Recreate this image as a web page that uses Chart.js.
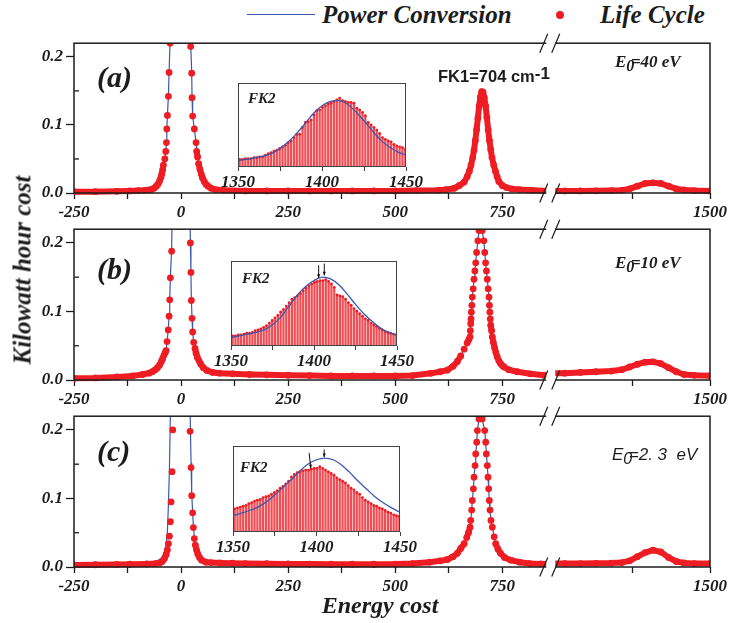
<!DOCTYPE html>
<html>
<head>
<meta charset="utf-8">
<script src="https://cdn.jsdelivr.net/npm/chart.js@4.4.1/dist/chart.umd.min.js"></script>
<style>
  body { margin: 0; background: #fff; }
  #wrap { position: relative; width: 730px; height: 623px; overflow: hidden; }
  canvas { position: absolute; }
  .t { position: absolute; font-family: "Liberation Serif", serif; font-style: italic; font-weight: bold;
       color: #1c1c1c; white-space: nowrap; line-height: 1; transform: translateY(-50%); }
  .sub { font-size: 0.95em; position: relative; top: 0.22em; margin-right: -0.22em; }
  .fk1 { position: absolute; font-family: "Liberation Sans", sans-serif; font-weight: bold; font-size: 16.5px;
         color: #1c1c1c; white-space: nowrap; line-height: 1; transform: translateY(-50%); }
  .fk1 sup { font-size: 17px; position: relative; top: -0.15em; vertical-align: top; line-height: 1; }
</style>
</head>
<body>
<div id="wrap">
  <canvas id="pa" width="730" height="193" style="left:0;top:30px"></canvas>
  <canvas id="pb" width="730" height="194" style="left:0;top:216px"></canvas>
  <canvas id="pc" width="730" height="194" style="left:0;top:403px"></canvas>
  <canvas id="ia" width="220" height="114" style="left:213px;top:77px"></canvas>
  <canvas id="ib" width="218" height="115" style="left:206px;top:255px"></canvas>
  <canvas id="ic" width="219" height="116" style="left:208px;top:440px"></canvas>

  <div style="position:absolute;left:247px;top:14px;width:68px;border-top:1.3px solid #3a58b0"></div>
  <div class="t" style="left:322px;top:14px;font-size:25px">Power Conversion</div>
  <div style="position:absolute;left:556px;top:11px;width:8px;height:8px;border-radius:50%;background:#ee1d23"></div>
  <div class="t" style="left:600px;top:14px;font-size:25px">Life Cycle</div>

  <div class="t" style="left:22px;top:270px;font-size:25px;transform:translate(-50%,-50%) rotate(-90deg)">Kilowatt hour cost</div>
  <div class="t" style="left:380px;top:605px;font-size:24px;transform:translate(-50%,-50%)">Energy cost</div>

  <div class="t" style="left:97px;top:77px;font-size:30px">(a)</div>
  <div class="t" style="left:97px;top:269px;font-size:30px">(b)</div>
  <div class="t" style="left:97px;top:451px;font-size:30px">(c)</div>

  <div class="t" style="left:615px;top:62px;font-size:17px">E<span class="sub">0</span>=40 eV</div>
  <div class="t" style="left:615px;top:263px;font-size:17px">E<span class="sub">0</span>=10 eV</div>
  <div class="t" style="left:612px;top:454px;font-size:17px;font-family:'Liberation Sans',sans-serif;font-weight:normal">E<span class="sub">0</span>=2. 3&nbsp; eV</div>

  <div class="fk1" style="left:438px;top:76px">FK1=704 cm<sup>-1</sup></div>

  <div class="t" style="left:248px;top:98px;font-size:15px">FK2</div>
  <div class="t" style="left:242px;top:278px;font-size:15px">FK2</div>
  <div class="t" style="left:240px;top:467px;font-size:15px">FK2</div>
</div>

<script>
// ---- main spectra, left part of the broken axis (-250 .. 862) ----
var energyA = [-250, -200, -150, -120, -100, -85, -75, -70, -63, -58, -54, -50, -47, -45, -43, -41.3, -38, -35.7, -34.2, -33.3,
  -31.9, -29.6, -28, -25.6, -15, 0, 15, 22.5, 24.8, 25.6, 27, 31, 35, 36.5, 38.5, 41, 44, 47, 50, 54,
  58, 63, 70, 80, 100, 150, 200, 250, 300, 350, 400, 450, 500, 550, 600, 620, 638, 650, 661, 668,
  673, 677, 681, 684, 687, 690, 693, 696, 699, 702, 705, 708, 711, 714, 717, 720, 723, 726, 730, 734,
  738, 742, 750, 760, 772, 790, 820, 862];
var lifeA = [0.002, 0.002, 0.0025, 0.003, 0.0035, 0.004, 0.0045, 0.005, 0.007, 0.010, 0.013, 0.018, 0.023, 0.028, 0.034, 0.041, 0.050, 0.061, 0.074, 0.094,
  0.114, 0.142, 0.177, 0.220, 0.60, 1.00, 0.60, 0.215, 0.176, 0.140, 0.113, 0.094, 0.074, 0.061, 0.053, 0.043, 0.035, 0.028, 0.022, 0.017,
  0.013, 0.010, 0.007, 0.005, 0.004, 0.003, 0.003, 0.003, 0.003, 0.003, 0.003, 0.003, 0.003, 0.0035, 0.004, 0.005, 0.007, 0.011, 0.016, 0.024,
  0.032, 0.041, 0.052, 0.063, 0.077, 0.093, 0.110, 0.128, 0.141, 0.149, 0.148, 0.140, 0.128, 0.111, 0.093, 0.077, 0.064, 0.052, 0.041, 0.032,
  0.024, 0.017, 0.011, 0.008, 0.006, 0.005, 0.004, 0.003];
var powerA = [0.002, 0.002, 0.0025, 0.003, 0.0035, 0.004, 0.0045, 0.005, 0.007, 0.010, 0.013, 0.018, 0.023, 0.028, 0.034, 0.041, 0.050, 0.061, 0.074, 0.094,
  0.114, 0.142, 0.177, 0.225, 0.62, 1.00, 0.62, 0.218, 0.178, 0.140, 0.113, 0.094, 0.074, 0.061, 0.053, 0.043, 0.035, 0.028, 0.022, 0.017,
  0.013, 0.010, 0.007, 0.005, 0.004, 0.003, 0.003, 0.003, 0.003, 0.003, 0.003, 0.003, 0.003, 0.0035, 0.004, 0.005, 0.007, 0.011, 0.016, 0.024,
  0.032, 0.041, 0.052, 0.063, 0.077, 0.093, 0.110, 0.128, 0.141, 0.149, 0.148, 0.140, 0.128, 0.111, 0.093, 0.077, 0.064, 0.052, 0.041, 0.032,
  0.024, 0.017, 0.011, 0.008, 0.006, 0.005, 0.004, 0.003];

var energyB = [-250, -200, -150, -113, -90, -75, -67, -60, -55, -50, -46, -43, -40, -37, -35, -32.7, -30, -28, -26.5, -25,
  -22, -15, 0, 15, 21.7, 23, 24, 25.6, 27, 29.5, 32.6, 35, 38, 42, 46, 52, 60, 74, 90, 120,
  160, 200, 250, 300, 350, 400, 450, 500, 540, 583, 605, 622, 635, 645, 653, 661, 668, 672, 674.7, 675.5,
  676.3, 677, 677.8, 679, 680, 682, 684, 686, 688, 690, 693, 695.7, 700, 703, 707, 709, 711, 713, 715, 717,
  719, 720, 721, 722, 723, 725, 726.7, 729, 732, 735, 738, 742, 746, 750, 754, 765, 785, 815, 847, 862];
var lifeB = [0.0025, 0.003, 0.0045, 0.006, 0.008, 0.010, 0.012, 0.015, 0.018, 0.022, 0.027, 0.031, 0.036, 0.040, 0.043, 0.056, 0.073, 0.093, 0.117, 0.149,
  0.188, 0.50, 1.00, 0.50, 0.200, 0.157, 0.116, 0.090, 0.070, 0.055, 0.046, 0.039, 0.033, 0.028, 0.023, 0.018, 0.014, 0.011, 0.010, 0.009,
  0.008, 0.0075, 0.007, 0.0065, 0.006, 0.006, 0.006, 0.006, 0.0065, 0.0097, 0.012, 0.0145, 0.020, 0.027, 0.035, 0.045, 0.054, 0.059, 0.063, 0.072,
  0.082, 0.089, 0.099, 0.109, 0.121, 0.133, 0.147, 0.159, 0.171, 0.186, 0.203, 0.218, 0.245, 0.218, 0.203, 0.186, 0.171, 0.159, 0.147, 0.133,
  0.121, 0.109, 0.099, 0.089, 0.080, 0.072, 0.063, 0.055, 0.047, 0.040, 0.034, 0.028, 0.024, 0.021, 0.019, 0.015, 0.012, 0.009, 0.007, 0.007];
var powerB = [0.0025, 0.003, 0.0045, 0.006, 0.008, 0.010, 0.012, 0.015, 0.018, 0.022, 0.027, 0.031, 0.036, 0.040, 0.043, 0.056, 0.073, 0.093, 0.117, 0.150,
  0.190, 0.52, 1.00, 0.52, 0.202, 0.158, 0.117, 0.090, 0.070, 0.055, 0.046, 0.039, 0.033, 0.028, 0.023, 0.018, 0.014, 0.011, 0.010, 0.009,
  0.008, 0.0075, 0.007, 0.0065, 0.006, 0.006, 0.006, 0.006, 0.0065, 0.0097, 0.012, 0.0145, 0.020, 0.027, 0.035, 0.045, 0.054, 0.059, 0.063, 0.072,
  0.082, 0.089, 0.099, 0.109, 0.121, 0.133, 0.147, 0.159, 0.171, 0.186, 0.203, 0.218, 0.248, 0.218, 0.203, 0.186, 0.171, 0.159, 0.147, 0.133,
  0.121, 0.109, 0.099, 0.089, 0.080, 0.072, 0.063, 0.055, 0.047, 0.040, 0.034, 0.028, 0.024, 0.021, 0.019, 0.015, 0.012, 0.009, 0.007, 0.007];

var energyC = [-250, -200, -150, -120, -80, -60, -50, -44, -39, -35, -32, -29.6, -27.3, -25, -23.3, -21, -19.6, -12, 0, 12,
  21, 23.3, 24.8, 27, 28.7, 31, 33.3, 36, 39, 43, 48, 58, 70, 90, 120, 150, 200, 250, 300, 350,
  400, 450, 500, 540, 580, 605, 622, 635, 645, 653, 661, 667, 671, 674.7, 676.3, 678.6, 680, 682.5, 684, 686.4,
  688, 690.3, 691.8, 695.7, 699.5, 703, 709, 711.3, 712.8, 715, 716.7, 718.2, 719.7, 721.3, 723.6, 726.7, 731, 734.6, 740, 746,
  755, 770, 790, 815, 840, 862];
var lifeC = [0.003, 0.0033, 0.0038, 0.004, 0.0045, 0.005, 0.006, 0.008, 0.012, 0.018, 0.025, 0.034, 0.045, 0.066, 0.095, 0.139, 0.200, 0.60, 1.00, 0.60,
  0.198, 0.145, 0.104, 0.079, 0.0575, 0.0415, 0.032, 0.025, 0.019, 0.014, 0.010, 0.007, 0.0065, 0.006, 0.0055, 0.005, 0.0048, 0.0045, 0.0042, 0.004,
  0.004, 0.004, 0.0042, 0.005, 0.007, 0.009, 0.011, 0.015, 0.020, 0.027, 0.034, 0.043, 0.050, 0.058, 0.068, 0.083, 0.097, 0.114, 0.131, 0.148,
  0.165, 0.182, 0.199, 0.216, 0.235, 0.216, 0.199, 0.182, 0.165, 0.148, 0.131, 0.114, 0.097, 0.083, 0.068, 0.058, 0.044, 0.034, 0.026, 0.020,
  0.014, 0.010, 0.007, 0.005, 0.0045, 0.0045];
var powerC = [0.003, 0.0033, 0.0038, 0.004, 0.006, 0.008, 0.011, 0.014, 0.022, 0.032, 0.050, 0.090, 0.140, 0.220, 0.300, 0.420, 0.500, 0.80, 1.00, 0.80,
  0.230, 0.152, 0.108, 0.080, 0.060, 0.043, 0.033, 0.026, 0.020, 0.015, 0.011, 0.0075, 0.0065, 0.006, 0.0055, 0.005, 0.0048, 0.0045, 0.0042, 0.004,
  0.004, 0.004, 0.0042, 0.005, 0.007, 0.009, 0.011, 0.015, 0.020, 0.027, 0.034, 0.043, 0.050, 0.058, 0.068, 0.083, 0.097, 0.114, 0.131, 0.148,
  0.165, 0.182, 0.199, 0.216, 0.238, 0.216, 0.199, 0.182, 0.165, 0.148, 0.131, 0.114, 0.097, 0.083, 0.068, 0.058, 0.044, 0.034, 0.026, 0.020,
  0.014, 0.010, 0.007, 0.005, 0.0045, 0.0045];

// ---- right part of the broken axis (1192 .. 1500) ----
var energyRight = [1192, 1220, 1250, 1280, 1310, 1330, 1345, 1360, 1375, 1390, 1405, 1420, 1435, 1450, 1470, 1500];
var lifeRA = [0.003, 0.003, 0.003, 0.0032, 0.0035, 0.004, 0.006, 0.010, 0.014, 0.015, 0.014, 0.010, 0.006, 0.0045, 0.0035, 0.003];
var powerRA = [0.003, 0.003, 0.003, 0.0032, 0.0035, 0.004, 0.006, 0.010, 0.014, 0.015, 0.014, 0.010, 0.006, 0.0045, 0.0035, 0.003];
var lifeRB = [0.010, 0.010, 0.011, 0.012, 0.013, 0.015, 0.019, 0.023, 0.026, 0.0265, 0.024, 0.018, 0.012, 0.008, 0.0068, 0.0063];
var powerRB = [0.010, 0.010, 0.011, 0.012, 0.013, 0.015, 0.019, 0.023, 0.026, 0.027, 0.025, 0.019, 0.012, 0.008, 0.0068, 0.0063];
var lifeRC = [0.005, 0.005, 0.005, 0.0053, 0.0057, 0.0065, 0.009, 0.015, 0.021, 0.0245, 0.022, 0.014, 0.008, 0.0058, 0.005, 0.005];
var powerRC = [0.005, 0.005, 0.005, 0.0053, 0.0057, 0.0065, 0.009, 0.015, 0.021, 0.0245, 0.022, 0.014, 0.008, 0.0058, 0.005, 0.005];

var ticksLeft = [-250, 0, 250, 500, 750];
var ticksRight = [1350, 1500];
var ticksY = [0, 0.1, 0.2];
var minorY = [0.05, 0.15];

// ---- FK2 insets ----
var insetX = [1351.0, 1352.7, 1354.4, 1356.1, 1357.8, 1359.5, 1361.2, 1362.9, 1364.6, 1366.3, 1368.0, 1369.7, 1371.4, 1373.1, 1374.8,
  1376.5, 1378.2, 1379.9, 1381.6, 1383.3, 1385.0, 1386.7, 1388.4, 1390.1, 1391.8, 1393.5, 1395.2, 1396.9, 1398.6, 1400.3,
  1402.0, 1403.7, 1405.4, 1407.1, 1408.8, 1410.5, 1412.2, 1413.9, 1415.6, 1417.3, 1419.0, 1420.7, 1422.4, 1424.1, 1425.8,
  1427.5, 1429.2, 1430.9, 1432.6, 1434.3, 1436.0, 1437.7, 1439.4, 1441.1, 1442.8, 1444.5, 1446.2, 1447.9, 1449.6];
var barsA = [0.09, 0.09, 0.10, 0.10, 0.10, 0.11, 0.11, 0.12, 0.12, 0.14, 0.16, 0.17, 0.19, 0.20, 0.22,
  0.24, 0.26, 0.29, 0.31, 0.35, 0.39, 0.39, 0.47, 0.53, 0.54, 0.56, 0.62, 0.67, 0.68, 0.71,
  0.73, 0.75, 0.76, 0.78, 0.80, 0.82, 0.79, 0.78, 0.77, 0.77, 0.76, 0.70, 0.68, 0.65, 0.61,
  0.53, 0.50, 0.47, 0.44, 0.40, 0.35, 0.33, 0.31, 0.30, 0.27, 0.25, 0.24, 0.23, 0.21];
var barsB = [0.12, 0.12, 0.13, 0.13, 0.14, 0.15, 0.15, 0.16, 0.18, 0.19, 0.20, 0.22, 0.24, 0.27, 0.30,
  0.33, 0.36, 0.40, 0.43, 0.47, 0.51, 0.55, 0.57, 0.59, 0.62, 0.65, 0.68, 0.71, 0.73, 0.75,
  0.76, 0.77, 0.77, 0.78, 0.76, 0.73, 0.69, 0.60, 0.59, 0.58, 0.55, 0.51, 0.48, 0.44, 0.41,
  0.38, 0.35, 0.32, 0.30, 0.27, 0.25, 0.23, 0.21, 0.19, 0.17, 0.16, 0.15, 0.14, 0.13];
var barsC = [0.27, 0.28, 0.29, 0.30, 0.31, 0.33, 0.34, 0.36, 0.37, 0.38, 0.40, 0.41, 0.42, 0.44, 0.46,
  0.48, 0.51, 0.53, 0.56, 0.59, 0.64, 0.67, 0.69, 0.70, 0.71, 0.72, 0.72, 0.73, 0.74, 0.74,
  0.76, 0.74, 0.72, 0.70, 0.68, 0.66, 0.63, 0.61, 0.59, 0.57, 0.54, 0.51, 0.49, 0.46, 0.44,
  0.40, 0.37, 0.35, 0.33, 0.31, 0.30, 0.28, 0.27, 0.25, 0.23, 0.22, 0.20, 0.19, 0.18];
var fitX = [1350, 1355, 1360, 1365, 1370, 1375, 1380, 1385, 1390, 1395, 1400, 1405, 1410, 1415, 1420, 1425, 1430, 1435, 1440, 1445, 1450];
var fitA = [0.08, 0.09, 0.11, 0.13, 0.16, 0.22, 0.30, 0.40, 0.52, 0.64, 0.73, 0.78, 0.79, 0.75, 0.66, 0.55, 0.43, 0.32, 0.24, 0.18, 0.14];
var fitB = [0.10, 0.12, 0.14, 0.16, 0.19, 0.25, 0.34, 0.47, 0.60, 0.70, 0.77, 0.81, 0.79, 0.72, 0.61, 0.49, 0.38, 0.29, 0.21, 0.16, 0.125];
var fitC = [0.19, 0.22, 0.25, 0.29, 0.35, 0.43, 0.52, 0.61, 0.71, 0.79, 0.84, 0.86, 0.84, 0.78, 0.69, 0.59, 0.50, 0.41, 0.34, 0.28, 0.23];
// arrows: [x from, y from, x to, y to]
var arrowsB = [[1402.8, 0.95, 1402.8, 0.80], [1406.2, 0.97, 1406.2, 0.83]];
var arrowsC = [[1395.6, 0.92, 1396.6, 0.74], [1404.6, 0.96, 1404.6, 0.87]];

var red = '#ee1d23';
var blue = '#3a58b0';
var ink = '#1c1c1c';
var tickFont = { family: 'Liberation Serif', size: 17, style: 'italic', weight: 'bold' };

function pts(xs, ys) {
  return xs.map(function (x, i) { return { x: x, y: ys[i] }; });
}

// thick red trace; steep steps are left as separate dots
function lifeSegment(solidFrom) {
  return function (c) {
    if (c.p0.parsed.x >= solidFrom) return red;
    return Math.abs(c.p1.y - c.p0.y) > 5.5 ? 'rgba(0,0,0,0)' : red;
  };
}

var frame = {
  id: 'frame',
  afterDatasetsDraw: function (chart) {
    var ctx = chart.ctx, a = chart.chartArea, y = chart.scales.y;
    ctx.save();
    ctx.strokeStyle = ink;
    ctx.lineWidth = 1.5;
    ctx.strokeRect(a.left, a.top, a.right - a.left, a.bottom - a.top);
    ctx.lineWidth = 1.3;
    minorY.forEach(function (v) {
      var py = y.getPixelForValue(v);
      ctx.beginPath(); ctx.moveTo(a.left, py); ctx.lineTo(a.left + 5, py); ctx.stroke();
    });
    // axis break
    var xb = chart.scales.xl.right;
    ctx.fillStyle = '#fff';
    ctx.fillRect(xb - 4, a.top - 2, 9, a.bottom - a.top + 6);
    ctx.lineWidth = 1.2;
    [a.top, a.bottom].forEach(function (yy) {
      [-6.5, 5.5].forEach(function (dx) {
        ctx.beginPath();
        ctx.moveTo(xb + dx - 4, yy + 9.5);
        ctx.lineTo(xb + dx + 4, yy - 9.5);
        ctx.stroke();
      });
    });
    ctx.restore();
  }
};

function panel(id, energy, life, power, lifeR, powerR, solidFrom) {
  var clip = { left: 0, top: 0, right: 0, bottom: 5 };
  new Chart(document.getElementById(id), {
    type: 'line',
    data: {
      datasets: [
        { data: pts(energy, life), xAxisID: 'xl', borderColor: red, borderWidth: 6, borderCapStyle: 'round', borderJoinStyle: 'round',
          pointRadius: 3.4, pointBackgroundColor: red, pointBorderWidth: 0, clip: clip,
          segment: { borderColor: lifeSegment(solidFrom) } },
        { data: pts(energyRight, lifeR), xAxisID: 'xr', borderColor: red, borderWidth: 6, borderCapStyle: 'round', borderJoinStyle: 'round',
          pointRadius: 3.4, pointBackgroundColor: red, pointBorderWidth: 0, clip: clip },
        { data: pts(energy, power), xAxisID: 'xl', borderColor: blue, borderWidth: 1.2, pointRadius: 0, clip: clip },
        { data: pts(energyRight, powerR), xAxisID: 'xr', borderColor: blue, borderWidth: 1.2, pointRadius: 0, clip: clip }
      ]
    },
    options: {
      responsive: false,
      animation: false,
      events: [],
      layout: { padding: { left: 30, right: 19, top: 12, bottom: 0 } },
      plugins: { legend: { display: false }, tooltip: { enabled: false } },
      scales: {
        xl: {
          type: 'linear', position: 'bottom', stack: 'energy', stackWeight: 477, min: -250, max: 862, offset: false,
          afterBuildTicks: function (s) { s.ticks = [-250, -125, 0, 125, 250, 375, 500, 625, 750].map(function (v) { return { value: v }; }); },
          ticks: { autoSkip: false, maxRotation: 0, font: tickFont, color: ink, padding: 3,
                   callback: function (v) { return ticksLeft.indexOf(v) >= 0 ? String(v) : ''; } },
          grid: { drawOnChartArea: false, tickLength: 6, tickColor: ink, tickWidth: 1.3 },
          border: { display: false },
          afterFit: function (s) { s.height = 30; }
        },
        xr: {
          type: 'linear', position: 'bottom', stack: 'energy', stackWeight: 160, min: 1192, max: 1500, offset: false,
          afterBuildTicks: function (s) { s.ticks = ticksRight.map(function (v) { return { value: v }; }); },
          ticks: { autoSkip: false, maxRotation: 0, font: tickFont, color: ink, padding: 3,
                   callback: function (v) { return v === 1500 ? '1500' : ''; } },
          grid: { drawOnChartArea: false, tickLength: 6, tickColor: ink, tickWidth: 1.3 },
          border: { display: false },
          afterFit: function (s) { s.height = 30; }
        },
        y: {
          min: 0, max: 0.22,
          afterBuildTicks: function (s) { s.ticks = [0, 0.05, 0.1, 0.15, 0.2].map(function (v) { return { value: v }; }); },
          ticks: { font: tickFont, color: ink, padding: 3,
                   callback: function (v) { return ticksY.indexOf(v) >= 0 ? v.toFixed(1) : ''; } },
          grid: { drawOnChartArea: false, tickLength: 8, tickWidth: 1.3,
                  tickColor: function (c) { return ticksY.indexOf(c.tick.value) >= 0 ? ink : 'rgba(0,0,0,0)'; } },
          border: { display: false },
          afterFit: function (s) { s.width = 44; }
        }
      }
    },
    plugins: [frame]
  });
}

var insetFrame = {
  id: 'insetFrame',
  beforeDatasetsDraw: function (chart) {
    var a = chart.chartArea;
    chart.ctx.save();
    chart.ctx.fillStyle = '#fff';
    chart.ctx.fillRect(a.left, a.top, a.right - a.left, a.bottom - a.top);
    chart.ctx.restore();
  },
  afterDatasetsDraw: function (chart, args, opts) {
    var ctx = chart.ctx, a = chart.chartArea, x = chart.scales.x, y = chart.scales.y;
    ctx.save();
    ctx.strokeStyle = '#444';
    ctx.lineWidth = 1;
    ctx.strokeRect(a.left + 0.5, a.top + 0.5, a.right - a.left - 1, a.bottom - a.top - 1);
    ctx.strokeStyle = '#111';
    ctx.fillStyle = '#111';
    (opts.arrows || []).forEach(function (ar) {
      var x1 = x.getPixelForValue(ar[0]), y1 = y.getPixelForValue(ar[1]);
      var x2 = x.getPixelForValue(ar[2]), y2 = y.getPixelForValue(ar[3]);
      ctx.beginPath(); ctx.moveTo(x1, y1); ctx.lineTo(x2, y2); ctx.stroke();
      var ang = Math.atan2(y2 - y1, x2 - x1);
      ctx.beginPath();
      ctx.moveTo(x2, y2);
      ctx.lineTo(x2 - 4 * Math.cos(ang - 0.4), y2 - 4 * Math.sin(ang - 0.4));
      ctx.lineTo(x2 - 4 * Math.cos(ang + 0.4), y2 - 4 * Math.sin(ang + 0.4));
      ctx.closePath(); ctx.fill();
    });
    ctx.restore();
  }
};

function inset(id, bars, fit, arrows, pad) {
  new Chart(document.getElementById(id), {
    type: 'bar',
    data: {
      datasets: [
        { type: 'line', data: pts(fitX, fit), borderColor: blue, borderWidth: 1.3, pointRadius: 0, cubicInterpolationMode: 'monotone' },
        { type: 'line', data: pts(insetX, bars), showLine: false, pointRadius: 1.4, pointBackgroundColor: red, pointBorderWidth: 0 },
        { type: 'bar', data: pts(insetX, bars), backgroundColor: 'rgba(236,34,42,0.8)', barThickness: 1.6 }
      ]
    },
    options: {
      responsive: false,
      animation: false,
      events: [],
      layout: { padding: pad },
      plugins: { legend: { display: false }, tooltip: { enabled: false }, insetFrame: { arrows: arrows } },
      scales: {
        x: {
          type: 'linear', min: 1350, max: 1450, offset: false,
          afterBuildTicks: function (s) { s.ticks = [1350, 1375, 1400, 1425, 1450].map(function (v) { return { value: v }; }); },
          ticks: { autoSkip: false, maxRotation: 0, font: tickFont, color: ink, padding: 1,
                   callback: function (v) { return v % 50 === 0 ? String(v) : ''; } },
          grid: { drawOnChartArea: false, offset: false, tickLength: 4, tickColor: '#444' },
          border: { display: false },
          afterFit: function (s) { s.height = 24; }
        },
        y: { display: false, min: 0, max: 1 }
      }
    },
    plugins: [insetFrame]
  });
}

panel('pa', energyA, lifeA, powerA, lifeRA, powerRA, 500);
panel('pb', energyB, lifeB, powerB, lifeRB, powerRB, 10000);
panel('pc', energyC, lifeC, powerC, lifeRC, powerRC, 10000);

inset('ia', barsA, fitA, [], { left: 25, right: 27, top: 6, bottom: 0 });
inset('ib', barsB, fitB, arrowsB, { left: 25, right: 27, top: 6, bottom: 0 });
inset('ic', barsC, fitC, arrowsC, { left: 25, right: 27, top: 6, bottom: 0 });
</script>
</body>
</html>
